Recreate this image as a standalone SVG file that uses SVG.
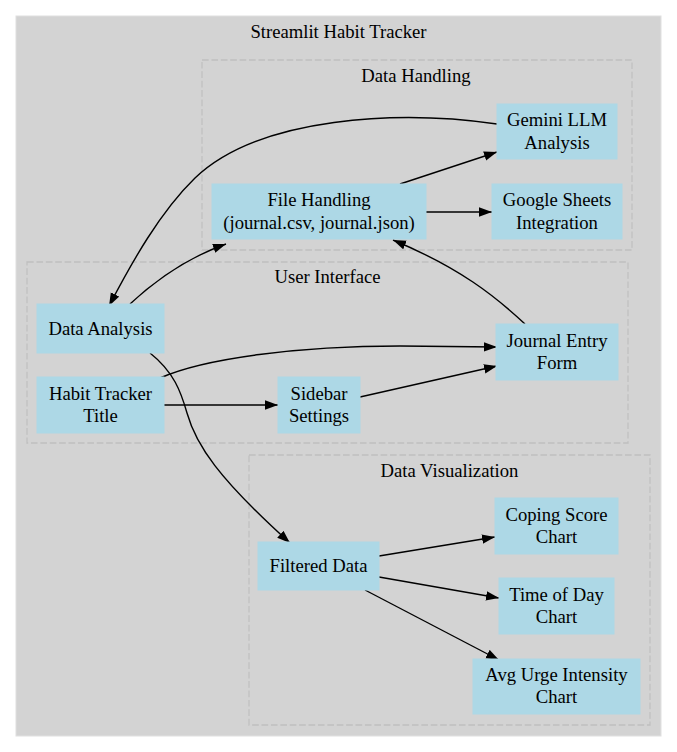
<svg xmlns="http://www.w3.org/2000/svg" width="677" height="752" viewBox="0 0 677 752">
<defs>
<style>
text{font-family:"Liberation Serif","Times New Roman",serif;font-size:18.67px;fill:#000;text-anchor:middle}
.node rect{fill:#add8e6;stroke:#add8e6}
.cl{fill:none;stroke:#c0c0c0;stroke-width:1.3;stroke-dasharray:6.7,2.7}
.edges path{fill:none;stroke:#000;stroke-width:1.4}
</style>
<marker id="ah" markerUnits="userSpaceOnUse" markerWidth="14" markerHeight="10" refX="13" refY="4.7" orient="auto">
<path d="M0,0 L13,4.7 L0,9.4 Z" fill="#000"/>
</marker>
</defs>
<rect width="677" height="752" fill="#fff"/>
<g id="cluster-main">
<rect x="16" y="16" width="645" height="720" fill="#d3d3d3" stroke="#e0e0e0"/>
<text x="338.5" y="38">Streamlit Habit Tracker</text>
</g>
<g id="cluster-data-handling">
<rect class="cl" x="202" y="60" width="430" height="190"/>
<text x="416" y="82">Data Handling</text>
</g>
<g id="cluster-user-interface">
<rect class="cl" x="27" y="262" width="601" height="181"/>
<text x="327.5" y="283">User Interface</text>
</g>
<g id="cluster-data-visualization">
<rect class="cl" x="249" y="455" width="401" height="270"/>
<text x="449.5" y="477">Data Visualization</text>
</g>
<g class="edges" id="connectors">
<path d="M497,124 C400,110 260,116 195,178 C160,212 132,262 109,306" marker-end="url(#ah)"/>
<path d="M130,304 C158,278 192,256 226,244" marker-end="url(#ah)"/>
<path d="M525,324 C495,296 460,268 393,240" marker-end="url(#ah)"/>
<path d="M400,184 L497,152" marker-end="url(#ah)"/>
<path d="M426,212 L492,212" marker-end="url(#ah)"/>
<path d="M160,378 C205,358 300,346 400,346 L497,347" marker-end="url(#ah)"/>
<path d="M164,405 L278,405" marker-end="url(#ah)"/>
<path d="M360,397 L497,366" marker-end="url(#ah)"/>
<path d="M150,353 C174,372 181,392 187,413 C196,445 218,478 290,543" marker-end="url(#ah)"/>
<path d="M379,556 L495,537" marker-end="url(#ah)"/>
<path d="M379,577 L499,598" marker-end="url(#ah)"/>
<path d="M365,590 L499,660" marker-end="url(#ah)"/>
</g>
<g class="node" id="node-gemini">
<rect x="497" y="104" width="120" height="55"/>
<text x="557" y="126">Gemini LLM</text>
<text x="557" y="148.5">Analysis</text>
</g>
<g class="node" id="node-file-handling">
<rect x="212" y="184" width="214" height="55"/>
<text x="319" y="206">File Handling</text>
<text x="319" y="228.5">(journal.csv, journal.json)</text>
</g>
<g class="node" id="node-google-sheets">
<rect x="492" y="184" width="130" height="55"/>
<text x="557" y="206">Google Sheets</text>
<text x="557" y="228.5">Integration</text>
</g>
<g class="node" id="node-data-analysis">
<rect x="37" y="304" width="127" height="49"/>
<text x="100.5" y="335">Data Analysis</text>
</g>
<g class="node" id="node-habit-title">
<rect x="37" y="377" width="127" height="56"/>
<text x="100.5" y="400">Habit Tracker</text>
<text x="100.5" y="422">Title</text>
</g>
<g class="node" id="node-sidebar">
<rect x="278" y="377" width="82" height="56"/>
<text x="319" y="400">Sidebar</text>
<text x="319" y="422">Settings</text>
</g>
<g class="node" id="node-journal-form">
<rect x="496" y="324" width="122" height="56"/>
<text x="557" y="347">Journal Entry</text>
<text x="557" y="369">Form</text>
</g>
<g class="node" id="node-filtered-data">
<rect x="258" y="542" width="121" height="48"/>
<text x="318.5" y="572">Filtered Data</text>
</g>
<g class="node" id="node-coping">
<rect x="495" y="498" width="123" height="56"/>
<text x="556.5" y="521">Coping Score</text>
<text x="556.5" y="543">Chart</text>
</g>
<g class="node" id="node-time-of-day">
<rect x="499" y="578" width="115" height="56"/>
<text x="556.5" y="601">Time of Day</text>
<text x="556.5" y="623">Chart</text>
</g>
<g class="node" id="node-avg-urge">
<rect x="473" y="659" width="167" height="55"/>
<text x="556.5" y="681">Avg Urge Intensity</text>
<text x="556.5" y="703">Chart</text>
</g>
</svg>
